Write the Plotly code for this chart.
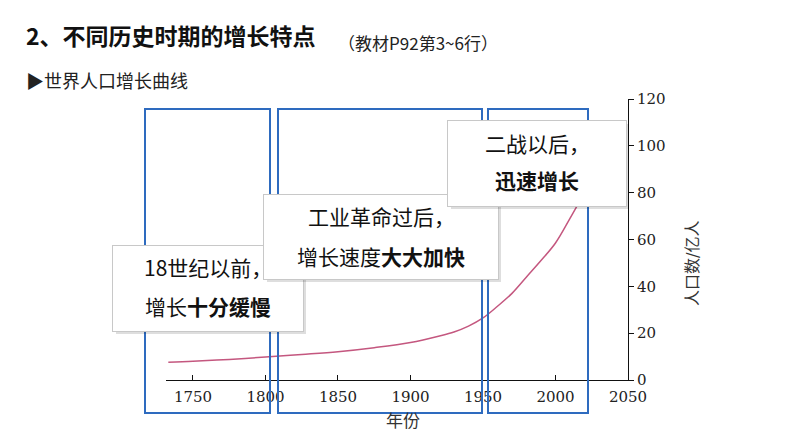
import plotly.graph_objects as go

# ---- data ----
years = [1733, 1750, 1775, 1800, 1825, 1850, 1875, 1900, 1920, 1930, 1940, 1950,
         1960, 1970, 1980, 1990, 2000, 2010, 2020]
population = [7.6, 8.0, 8.8, 9.8, 10.9, 12.1, 13.8, 16.0, 18.8, 20.5, 23.0, 26.5,
              31.5, 37.0, 44.0, 51.0, 58.5, 69.0, 80.0]
x_ticks = [1750, 1800, 1850, 1900, 1950, 2000, 2050]
y_ticks = [0, 20, 40, 60, 80, 100, 120]

title_text = "2、不同历史时期的增长特点"
subtitle_text = "（教材P92第3~6行）"
caption_text = "▶世界人口增长曲线"
x_title = "年份"
y_title = "人口数/亿人"
box_lines = [
    ["18世纪以前，", "增长<b>十分缓慢</b>"],
    ["工业革命过后，", "增长速度<b>大大加快</b>"],
    ["二战以后，", "<b>迅速增长</b>"],
]

# ---- layout geometry (pixels) ----
W, H = 794, 447
L, R, T, B = 166, 628, 99, 380


def px(x):
    return (x - L) / (R - L)


def py(y):
    return (B - y) / (B - T)


fig = go.Figure()
fig.add_trace(go.Scatter(
    x=years, y=population, mode="lines",
    line=dict(color="#c4577f", width=1.5, shape="spline"),
    hoverinfo="skip", showlegend=False,
))

tickserif = "DejaVu Serif"
serif = "DejaVu Serif, Noto Sans CJK SC"
cjk = "Noto Sans CJK SC"

fig.update_layout(
    width=W, height=H,
    margin=dict(l=L, r=W - R, t=T, b=H - B),
    paper_bgcolor="white", plot_bgcolor="white",
    xaxis=dict(
        range=[1731.4, 2050], tickvals=x_ticks, showgrid=False, zeroline=False,
        showline=True, linecolor="#111", linewidth=1,
        ticks="inside", ticklen=5, tickcolor="#111", ticklabelstandoff=3,
        tickfont=dict(family=tickserif, size=15, color="#222"),
    ),
    yaxis=dict(
        range=[0, 120], tickvals=y_ticks, side="right", showgrid=False, zeroline=False,
        showline=True, linecolor="#111", linewidth=1,
        ticks="outside", ticklen=5, tickcolor="#111",
        tickfont=dict(family=tickserif, size=15, color="#222"),
    ),
)

shapes = []
for (x0, x1) in [(145, 270), (278, 482), (488, 588)]:
    shapes.append(dict(type="rect", xref="paper", yref="paper",
                       x0=px(x0), x1=px(x1), y0=py(413), y1=py(109),
                       line=dict(color="#2e6bbf", width=2), layer="above"))
fig.update_layout(shapes=shapes)

ann = []
ann.append(dict(text="<b>" + title_text + "</b>", xref="paper", yref="paper",
                x=px(24), y=py(35), xanchor="left", yanchor="middle", showarrow=False,
                font=dict(family=cjk, size=23, color="#111")))
ann.append(dict(text=subtitle_text, xref="paper", yref="paper",
                x=px(336), y=py(43), xanchor="left", yanchor="middle", showarrow=False,
                font=dict(family=cjk, size=17, color="#222")))
ann.append(dict(text=caption_text, xref="paper", yref="paper",
                x=px(24), y=py(80), xanchor="left", yanchor="middle", showarrow=False,
                font=dict(family=cjk, size=18, color="#222")))
ann.append(dict(text=x_title, xref="paper", yref="paper",
                x=px(403), y=py(421), xanchor="center", yanchor="middle", showarrow=False,
                font=dict(family=serif, size=17, color="#333")))
ann.append(dict(text=y_title, xref="paper", yref="paper", textangle=-90,
                x=px(692), y=py(264), xanchor="center", yanchor="middle", showarrow=False,
                font=dict(family=serif, size=16, color="#333")))

boxes = [(112, 245, 190, 85, [267, 306]),
         (263, 194, 234, 84, [216, 256]),
         (447, 120, 178, 85, [143, 180])]
for (left, top, w, h, ys), lines in zip(boxes, box_lines):
    for off, col in [(4, "rgba(0,0,0,0.13)"), (2, "rgba(0,0,0,0.18)")]:
        ann.append(dict(text=" ", xref="paper", yref="paper",
                        x=px(left + off), y=py(top + off), xanchor="left", yanchor="top",
                        width=w, height=h, bgcolor=col, borderpad=0, borderwidth=0,
                        showarrow=False))
    ann.append(dict(text=" ", xref="paper", yref="paper",
                    x=px(left), y=py(top), xanchor="left", yanchor="top",
                    width=w, height=h, bgcolor="white", bordercolor="#c8c8c8",
                    borderwidth=1, borderpad=0, showarrow=False))
    for line, yy in zip(lines, ys):
        ann.append(dict(text=line, xref="paper", yref="paper",
                        x=px(left + w / 2 + 1), y=py(yy), xanchor="center", yanchor="middle",
                        showarrow=False, font=dict(family=cjk, size=21, color="#111")))

fig.update_layout(annotations=ann)
fig.write_html("out.html")
